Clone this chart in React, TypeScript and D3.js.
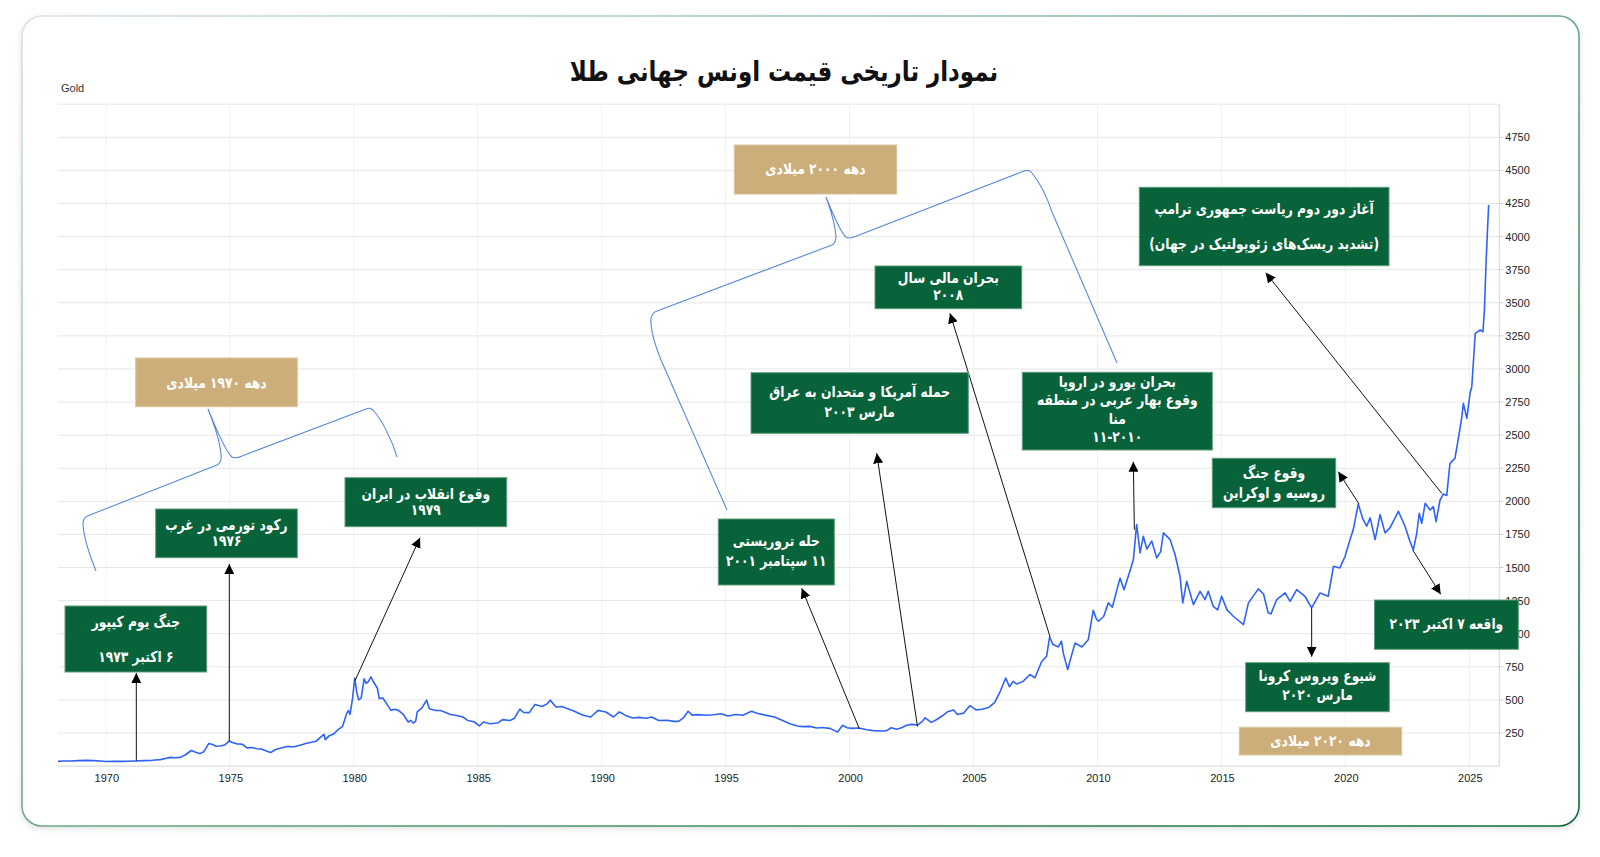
import React from "react";
import * as d3 from "d3";

// ---- data: [year, price USD/oz] ----
const gold1968_1979: [number, number][] = [
  [1968.07, 36], [1968.3, 38], [1968.6, 39], [1968.9, 41], [1969.2, 43], [1969.5, 41], [1969.8, 38],
  [1970.0, 35], [1970.3, 36], [1970.6, 36], [1970.9, 37], [1971.2, 39], [1971.5, 41], [1971.8, 42],
  [1972.0, 46], [1972.2, 49], [1972.4, 58], [1972.6, 66], [1972.8, 63], [1973.0, 66], [1973.2, 84],
  [1973.45, 118], [1973.6, 106], [1973.8, 94], [1973.95, 108], [1974.15, 170], [1974.3, 163],
  [1974.45, 150], [1974.6, 152], [1974.8, 160], [1974.98, 190], [1975.1, 178], [1975.3, 168],
  [1975.5, 165], [1975.7, 138], [1975.9, 140], [1976.1, 131], [1976.3, 128], [1976.5, 112],
  [1976.65, 103], [1976.85, 125], [1977.0, 133], [1977.3, 148], [1977.6, 146], [1977.9, 162],
  [1978.1, 172], [1978.3, 180], [1978.5, 190], [1978.7, 225], [1978.8, 240], [1978.85, 200],
  [1979.0, 228], [1979.2, 245], [1979.4, 280], [1979.55, 300], [1979.7, 390], [1979.78, 420],
  [1979.85, 390], [1979.95, 510],
];
const gold1980_1989: [number, number][] = [
  [1980.04, 665], [1980.12, 560], [1980.2, 500], [1980.3, 515], [1980.42, 660], [1980.5, 625],
  [1980.6, 640], [1980.69, 675], [1980.8, 635], [1980.95, 590], [1981.03, 510], [1981.17, 515],
  [1981.3, 480], [1981.5, 421], [1981.65, 430], [1981.8, 421], [1982.0, 390], [1982.2, 333],
  [1982.3, 345], [1982.4, 325], [1982.5, 340], [1982.56, 409], [1982.75, 440], [1982.94, 498],
  [1983.05, 434], [1983.3, 420], [1983.5, 420], [1983.66, 409], [1983.9, 390], [1984.1, 384],
  [1984.4, 371], [1984.6, 345], [1984.85, 335], [1985.07, 303], [1985.23, 333], [1985.5, 320],
  [1985.8, 325], [1986.0, 351], [1986.3, 345], [1986.47, 359], [1986.7, 431], [1986.85, 405],
  [1987.08, 404], [1987.31, 465], [1987.6, 450], [1987.8, 470], [1987.93, 498], [1988.16, 446],
  [1988.4, 450], [1988.63, 434], [1988.9, 415], [1989.25, 384], [1989.56, 371], [1989.86, 421],
];
const gold1990_1999: [number, number][] = [
  [1990.02, 415], [1990.17, 409], [1990.48, 371], [1990.71, 409], [1990.95, 385], [1991.25, 363],
  [1991.5, 368], [1991.8, 362], [1992.02, 371], [1992.3, 345], [1992.64, 346], [1992.9, 338],
  [1993.1, 338], [1993.3, 365], [1993.49, 414], [1993.65, 385], [1993.88, 389], [1994.2, 384],
  [1994.5, 388], [1994.81, 396], [1995.1, 378], [1995.4, 390], [1995.7, 384], [1996.04, 414],
  [1996.3, 398], [1996.6, 385], [1996.97, 371], [1997.3, 345], [1997.59, 320], [1997.9, 303],
  [1998.1, 298], [1998.4, 300], [1998.67, 288], [1998.9, 292], [1999.2, 285], [1999.52, 258],
  [1999.72, 308], [1999.9, 290],
];
const gold2000_2009: [number, number][] = [
  [2000.1, 285], [2000.37, 288], [2000.7, 275], [2000.95, 268], [2001.3, 265], [2001.5, 268],
  [2001.68, 290], [2001.9, 278], [2002.1, 290], [2002.3, 308], [2002.5, 315], [2002.74, 310],
  [2002.95, 340], [2003.04, 365], [2003.3, 330], [2003.5, 350], [2003.75, 380], [2003.95, 410],
  [2004.2, 423], [2004.35, 390], [2004.6, 400], [2004.86, 457], [2005.1, 425], [2005.35, 430],
  [2005.6, 442], [2005.85, 480], [2006.08, 565], [2006.3, 665], [2006.45, 600], [2006.6, 640],
  [2006.74, 620], [2007.0, 640], [2007.28, 692], [2007.48, 667], [2007.75, 790], [2007.95, 830],
  [2008.07, 975], [2008.2, 920], [2008.42, 900], [2008.55, 943], [2008.62, 855], [2008.8, 729],
  [2008.96, 840], [2009.1, 930], [2009.37, 900], [2009.63, 955], [2009.83, 1177], [2009.96, 1110],
];
const gold2010_2019: [number, number][] = [
  [2010.04, 1094], [2010.25, 1130], [2010.44, 1233], [2010.6, 1200], [2010.91, 1420], [2011.07, 1333],
  [2011.32, 1480], [2011.45, 1560], [2011.58, 1825], [2011.72, 1611], [2011.85, 1736], [2011.99, 1640],
  [2012.19, 1700], [2012.39, 1573], [2012.55, 1620], [2012.66, 1762], [2012.93, 1711], [2013.13, 1598],
  [2013.33, 1434], [2013.44, 1233], [2013.6, 1396], [2013.87, 1220], [2014.14, 1320], [2014.34, 1258],
  [2014.47, 1320], [2014.67, 1207], [2014.85, 1180], [2015.01, 1283], [2015.22, 1182], [2015.48, 1132],
  [2015.89, 1069], [2016.09, 1233], [2016.49, 1339], [2016.7, 1300], [2016.89, 1157], [2017.0, 1150],
  [2017.23, 1258], [2017.57, 1308], [2017.77, 1245], [2018.04, 1333], [2018.37, 1283], [2018.64, 1195],
  [2018.98, 1308], [2019.31, 1283], [2019.52, 1509], [2019.78, 1497], [2019.99, 1585],
];
const gold2020_2025: [number, number][] = [
  [2020.19, 1711], [2020.32, 1787], [2020.52, 1980], [2020.7, 1870], [2020.86, 1812], [2021.0, 1875],
  [2021.2, 1711], [2021.4, 1900], [2021.6, 1762], [2021.8, 1800], [2022.14, 1925], [2022.41, 1810],
  [2022.6, 1700], [2022.74, 1632], [2022.88, 1759], [2022.98, 1910], [2023.08, 1834], [2023.22, 1985],
  [2023.42, 1935], [2023.55, 1960], [2023.66, 1846], [2023.82, 2010], [2023.95, 2055], [2024.09, 2045],
  [2024.22, 2287], [2024.42, 2325], [2024.56, 2476], [2024.7, 2639], [2024.76, 2740], [2024.9, 2627],
  [2025.03, 2816], [2025.1, 2866], [2025.24, 3269], [2025.44, 3294], [2025.55, 3281], [2025.61, 3445],
  [2025.68, 3823], [2025.78, 4239],
];

const xTicks = [1970, 1975, 1980, 1985, 1990, 1995, 2000, 2005, 2010, 2015, 2020, 2025];
const yTicks = [250, 500, 750, 1000, 1250, 1500, 1750, 2000, 2250, 2500, 2750, 3000, 3250, 3500, 3750, 4000, 4250, 4500, 4750];
const yGrid = [...yTicks, 5000];

const titleText = "نمودار تاریخی قیمت اونس جهانی طلا";
const seriesName = "Gold";

// event anchors on the series: [year, price]
const eventAnchors: [number, number][] = [
  [1971.23, 40], [1974.98, 190], [1980.05, 645], [2000.4, 280], [2002.74, 298], [2008.09, 975],
  [2011.49, 1785], [2020.55, 1980], [2018.64, 1195], [2022.72, 1632], [2023.89, 2060],
];
// event label texts
const eventLabels: string[][] = [
  ["جنگ یوم کیپور", "۶ اکتبر ۱۹۷۳"],
  ["رکود تورمی در غرب", "۱۹۷۶"],
  ["وقوع انقلاب در ایران", "۱۹۷۹"],
  ["حله تروریستی", "۱۱ سپتامبر ۲۰۰۱"],
  ["حمله آمریکا و متحدان به عراق", "مارس ۲۰۰۳"],
  ["بحران مالی سال", "۲۰۰۸"],
  ["بحران یورو در اروپا", "وقوع بهار عربی در منطقه", "منا", "۱۱-۲۰۱۰"],
  ["وقوع جنگ", "روسیه و اوکراین"],
  ["شیوع ویروس کرونا", "مارس ۲۰۲۰"],
  ["واقعه ۷ اکتبر ۲۰۲۳"],
  ["آغاز دور دوم ریاست جمهوری ترامپ", "(تشدید ریسک‌های ژئوپولتیک در جهان)"],
];
const decadeLabels = ["دهه ۱۹۷۰ میلادی", "دهه ۲۰۰۰ میلادی", "دهه ۲۰۲۰ میلادی"];

// ---- layout (pixels) ----
const W = 1600, H = 857;
const PLOT = { left: 58, right: 1499.3, top: 104.2, bottom: 766.1 };
const eventLayout = [
  { box: [65, 606, 206.7, 672], ys: [621.7, 656.7], tip: [136.3, 673] },
  { box: [155.7, 509, 297.3, 557.7], ys: [525, 541], tip: [229.3, 564] },
  { box: [345, 477.7, 506.7, 526.7], ys: [494, 510], tip: [420, 537.7] },
  { box: [718.3, 519, 834.3, 585], ys: [540.7, 560.7], tip: [801.7, 588.3] },
  { box: [751, 372.7, 968.3, 433.3], ys: [391.7, 411.7], tip: [876.7, 453.3] },
  { box: [875, 266, 1021.7, 308.7], ys: [277.5, 295], tip: [950, 313.3] },
  { box: [1022.3, 372.3, 1212.3, 450], ys: [381.7, 400, 418.3, 436.7], tip: [1133.3, 461.7] },
  { box: [1212.3, 458.3, 1335.7, 507.7], ys: [472.3, 492.3], tip: [1338.3, 471.7] },
  { box: [1245.7, 662.7, 1389.3, 711.7], ys: [676, 695], tip: [1311.7, 656.7] },
  { box: [1374.5, 600, 1518.3, 649.3], ys: [624], tip: [1440.7, 594.3] },
  { box: [1139.3, 187.3, 1389, 265.7], ys: [208.3, 243.3], tip: [1265.7, 272.7] },
];
const decadeLayout = [
  { box: [135.7, 358, 297.3, 406.7], y: 382.7 },
  { box: [734.3, 145, 896.7, 194], y: 168.3 },
  { box: [1239.3, 727.3, 1401.7, 755], y: 740.5 },
];
const bracePaths = [
  "M96,571 C90,556 83,536 83,523 Q83,517 90,515 L217,465 Q222,462 221,455 C220,440 214,425 208,409 C215,425 224,450 232,457 Q236,459 242,456 L366,409 Q370,407 373,410 C382,420 392,440 397,457",
  "M727,510 L661,360 C655,345 650,330 651,318 Q652,313 657,311 L832,245 Q836,243 836,236 C835,222 830,208 826,197 C832,212 840,232 846,237 Q849,239 854,237 L1024,171 Q1029,169 1032,173 C1040,183 1047,197 1052,212 L1117,363",
];

const GREEN = "#08633a";
const TAN = "#ccae7a";
const LINE = "#2f63f5";
const FA = "'DejaVu Sans', sans-serif";
const LAT = "'Liberation Sans', Arial, sans-serif";
const SQUEEZE = 0.82;

function FaText(props: { cx: number; cy: number; size: number; fill: string; children: string }) {
  return (
    <text
      transform={`translate(${props.cx},${props.cy}) scale(${SQUEEZE},1)`}
      x={0}
      y={0}
      textAnchor="middle"
      dominantBaseline="central"
      fontFamily={FA}
      fontWeight="bold"
      fontSize={props.size}
      fill={props.fill}
      style={{ direction: "rtl" }}
    >
      {props.children}
    </text>
  );
}

export default function App() {
  const data = [...gold1968_1979, ...gold1980_1989, ...gold1990_1999, ...gold2000_2009, ...gold2010_2019, ...gold2020_2025];
  const x = d3.scaleLinear().domain([1968.07, 2026.21]).range([PLOT.left, PLOT.right]);
  const y = d3.scaleLinear().domain([0, 5000]).range([PLOT.bottom, PLOT.top]);
  const line = d3.line<[number, number]>().x((d) => x(d[0])).y((d) => y(d[1])).curve(d3.curveLinear);

  return (
    <svg width={W} height={H} style={{ position: "absolute", left: 0, top: 0, background: "#fff" }}>
      <defs>
        <linearGradient id="cardStroke" x1="0" y1="0" x2="1" y2="1">
          <stop offset="0%" stopColor="#d7e6dc" />
          <stop offset="40%" stopColor="#7fb597" />
          <stop offset="100%" stopColor="#0b6b3a" />
        </linearGradient>
        <filter id="shadow" x="-5%" y="-5%" width="110%" height="110%">
          <feDropShadow dx="0" dy="2" stdDeviation="3" floodColor="#000" floodOpacity="0.12" />
        </filter>
        <marker id="arrow" viewBox="0 0 10 10" refX="10" refY="5" markerWidth="10" markerHeight="10" markerUnits="userSpaceOnUse" orient="auto">
          <path d="M0,0 L10,5 L0,10 z" fill="#000" />
        </marker>
      </defs>
      <rect x={22} y={16} width={1557} height={810} rx={20} fill="#fff" stroke="url(#cardStroke)" strokeWidth={1.6} filter="url(#shadow)" />

      <FaText cx={784} cy={71} size={28} fill="#111">{titleText}</FaText>
      <text x={61} y={92} fontFamily={LAT} fontSize={11} fill="#333">{seriesName}</text>

      {/* grid */}
      {xTicks.map((t) => (
        <line key={"vx" + t} x1={x(t)} x2={x(t)} y1={PLOT.top} y2={PLOT.bottom} stroke="#f1f1f1" strokeWidth={1} />
      ))}
      {yGrid.map((t) => (
        <line key={"hy" + t} x1={PLOT.left} x2={PLOT.right} y1={y(t)} y2={y(t)} stroke="#e6e6e6" strokeWidth={1} />
      ))}
      <line x1={PLOT.left} x2={PLOT.right} y1={PLOT.bottom} y2={PLOT.bottom} stroke="#dcdcdc" strokeWidth={1.2} />
      <line x1={PLOT.right} x2={PLOT.right} y1={PLOT.top} y2={PLOT.bottom} stroke="#dcdcdc" strokeWidth={1.2} />
      {yTicks.map((t) => (
        <g key={"yt" + t}>
          <line x1={PLOT.right} x2={PLOT.right + 4} y1={y(t)} y2={y(t)} stroke="#ccc" />
          <text x={PLOT.right + 6} y={y(t)} dominantBaseline="central" fontFamily={LAT} fontSize={11} fill="#222">{t}</text>
        </g>
      ))}
      {xTicks.map((t) => (
        <text key={"xt" + t} x={x(t) + 1} y={782} textAnchor="middle" fontFamily={LAT} fontSize={11} fill="#222">{t}</text>
      ))}

      {/* decade braces */}
      {bracePaths.map((p, i) => (
        <path key={"br" + i} d={p} fill="none" stroke="#5a88d8" strokeWidth={1.1} />
      ))}

      {/* price series */}
      <path d={line(data) || ""} fill="none" stroke={LINE} strokeWidth={1.6} strokeLinejoin="round" />

      {/* arrows */}
      {eventAnchors.map((a, i) => (
        <line key={"ar" + i} x1={x(a[0])} y1={y(a[1])} x2={eventLayout[i].tip[0]} y2={eventLayout[i].tip[1]} stroke="#111" strokeWidth={1} markerEnd="url(#arrow)" />
      ))}

      {/* decade boxes */}
      {decadeLabels.map((lab, i) => {
        const b = decadeLayout[i].box;
        return (
          <g key={"dec" + i}>
            <rect x={b[0]} y={b[1]} width={b[2] - b[0]} height={b[3] - b[1]} fill={TAN} stroke="#d9c49c" strokeWidth={1} />
            <FaText cx={(b[0] + b[2]) / 2} cy={decadeLayout[i].y} size={15} fill="#fff">{lab}</FaText>
          </g>
        );
      })}

      {/* event boxes */}
      {eventLabels.map((lines, i) => {
        const L = eventLayout[i];
        const b = L.box;
        return (
          <g key={"ev" + i}>
            <rect x={b[0]} y={b[1]} width={b[2] - b[0]} height={b[3] - b[1]} fill={GREEN} stroke="#5f9c7b" strokeWidth={1} />
            {lines.map((t, j) => (
              <FaText key={j} cx={(b[0] + b[2]) / 2} cy={L.ys[j]} size={15} fill="#fff">{t}</FaText>
            ))}
          </g>
        );
      })}
    </svg>
  );
}
